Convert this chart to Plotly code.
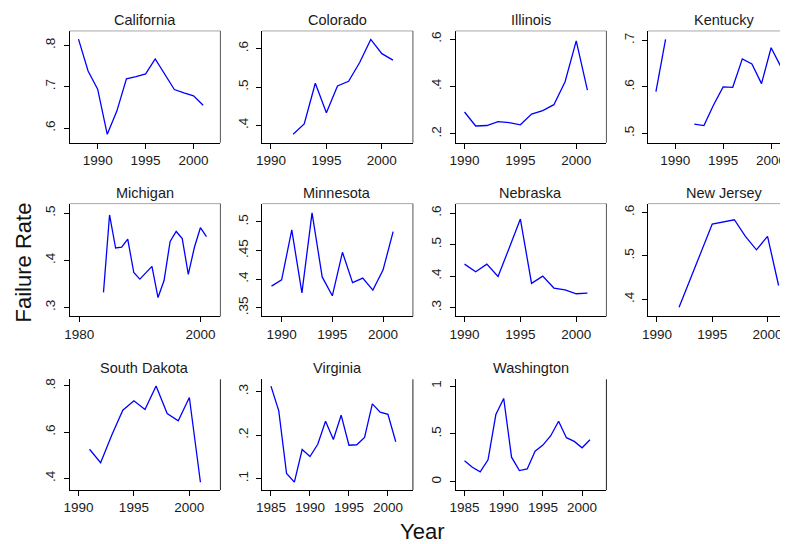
import plotly.graph_objects as go

# page body has an 8px default margin; lay the figure out in screenshot pixels minus that offset
OFF = 8
SW, SH = 788, 544
W, H = SW - OFF, SH - OFF
FONT = "Arial, Liberation Sans, sans-serif"

states = ["California", "Colorado", "Illinois", "Kentucky", "Michigan", "Minnesota",
          "Nebraska", "New Jersey", "South Dakota", "Virginia", "Washington"]

california_years = list(range(1988, 2002))
california_rate = [0.815, 0.738, 0.694, 0.585, 0.641, 0.719, 0.724, 0.731, 0.767, 0.730, 0.693, 0.685, 0.678, 0.655]

colorado_years = list(range(1992, 2002))
colorado_rate = [0.377, 0.404, 0.510, 0.433, 0.503, 0.515, 0.564, 0.624, 0.587, 0.570]

illinois_years = list(range(1990, 2002))
illinois_rate = [0.292, 0.233, 0.235, 0.251, 0.247, 0.238, 0.283, 0.298, 0.323, 0.420, 0.593, 0.385]

kentucky_years = list(range(1988, 2002))
kentucky_rate = [0.590, 0.702, None, None, 0.520, 0.517, 0.561, 0.600, 0.599, 0.660, 0.649, 0.607, 0.684, 0.644]

michigan_years = list(range(1984, 2002))
michigan_rate = [0.332, 0.496, 0.426, 0.428, 0.445, 0.374, 0.360, 0.373, 0.387, 0.321, 0.357, 0.440,
                 0.461, 0.446, 0.370, 0.427, 0.469, 0.450]

minnesota_years = list(range(1989, 2002))
minnesota_rate = [0.388, 0.399, 0.486, 0.376, 0.516, 0.404, 0.371, 0.447, 0.394, 0.402, 0.381, 0.416, 0.483]

nebraska_years = list(range(1990, 2002))
nebraska_rate = [0.438, 0.414, 0.438, 0.399, 0.489, 0.581, 0.377, 0.400, 0.362, 0.356, 0.344, 0.346]

newjersey_years = [1992, 1995, 1997, 1998, 1999, 2000, 2001]
newjersey_rate = [0.382, 0.573, 0.583, 0.545, 0.514, 0.545, 0.432]

southdakota_years = list(range(1991, 2002))
southdakota_rate = [0.526, 0.468, 0.587, 0.695, 0.736, 0.698, 0.800, 0.681, 0.649, 0.750, 0.383]

virginia_years = list(range(1985, 2002))
virginia_rate = [0.313, 0.256, 0.112, 0.092, 0.167, 0.151, 0.179, 0.232, 0.190, 0.246, 0.177, 0.178,
                 0.195, 0.272, 0.253, 0.248, 0.185]

washington_years = list(range(1985, 2002))
washington_rate = [0.218, 0.151, 0.102, 0.228, 0.702, 0.870, 0.256, 0.116, 0.133, 0.319, 0.382, 0.480,
                   0.632, 0.460, 0.421, 0.354, 0.439]

years_list = [california_years, colorado_years, illinois_years, kentucky_years, michigan_years,
              minnesota_years, nebraska_years, newjersey_years, southdakota_years, virginia_years,
              washington_years]
rates_list = [california_rate, colorado_rate, illinois_rate, kentucky_rate, michigan_rate,
              minnesota_rate, nebraska_rate, newjersey_rate, southdakota_rate, virginia_rate,
              washington_rate]

x_tick_vals = [
    [1990, 1995, 2000], [1990, 1995, 2000], [1990, 1995, 2000], [1990, 1995, 2000],
    [1980, 2000], [1990, 1995, 2000], [1990, 1995, 2000], [1990, 1995, 2000],
    [1990, 1995, 2000], [1985, 1990, 1995, 2000], [1985, 1990, 1995, 2000],
]
y_tick_vals = [
    [0.6, 0.7, 0.8], [0.4, 0.5, 0.6], [0.2, 0.4, 0.6], [0.5, 0.6, 0.7],
    [0.3, 0.4, 0.5], [0.35, 0.4, 0.45, 0.5], [0.3, 0.4, 0.5, 0.6], [0.4, 0.5, 0.6],
    [0.4, 0.6, 0.8], [0.1, 0.2, 0.3], [0, 0.5, 1],
]
y_tick_text = [
    [".6", ".7", ".8"], [".4", ".5", ".6"], [".2", ".4", ".6"], [".5", ".6", ".7"],
    [".3", ".4", ".5"], [".35", ".4", ".45", ".5"], [".3", ".4", ".5", ".6"], [".4", ".5", ".6"],
    [".4", ".6", ".8"], [".1", ".2", ".3"], ["0", ".5", "1"],
]

# axis ranges (layout)
x_ranges = [
    [1987.07, 2002.8], [1989.2, 2002.8], [1989.2, 2002.7], [1987.18, 2001.76],
    [1978.4, 2003.3], [1988.07, 2002.95], [1989.2, 2002.7], [1989.2, 2001.85],
    [1989.2, 2002.8], [1983.86, 2003.2], [1983.86, 2003.1],
]
y_ranges = [
    [0.5645, 0.8346], [0.355, 0.646], [0.162, 0.635], [0.48, 0.72],
    [0.281, 0.52], [0.335, 0.532], [0.272, 0.63], [0.361, 0.62],
    [0.349, 0.829], [0.0737, 0.3286], [-0.088, 1.07],
]

# panel geometry in screenshot pixels
col_left = [64, 258, 453, 647]
panel_w = 152
row_top = [30, 203, 379]
row_bot = [142, 316, 490]


def px_x(p):
    return (p - OFF) / W


def px_y(p):
    return 1 - (p - OFF) / H


fig = go.Figure()
annotations = []
shapes = []

for i, name in enumerate(states):
    r, c = divmod(i, 4)
    ax = "" if i == 0 else str(i + 1)
    left = col_left[c]
    right = min(left + panel_w, SW)
    xd = [px_x(left), min(px_x(right), 1.0)]
    yd = [px_y(row_bot[r]), px_y(row_top[r])]
    fig.add_trace(go.Scatter(
        x=years_list[i], y=rates_list[i], mode="lines",
        line=dict(color="#0000ff", width=1.3), connectgaps=False,
        xaxis="x" + ax, yaxis="y" + ax, showlegend=False, hoverinfo="skip"))
    common = dict(showgrid=False, zeroline=False, showline=True, linecolor="black",
                  linewidth=1, ticks="outside", ticklen=5, tickwidth=1, tickcolor="black",
                  tickfont=dict(family=FONT, size=13.5, color="#1a1a1a"), fixedrange=True)
    fig.update_layout(**{
        "xaxis" + ax: dict(domain=xd, range=x_ranges[i], anchor="y" + ax,
                           tickvals=x_tick_vals[i], ticktext=[str(v) for v in x_tick_vals[i]],
                           **common),
        "yaxis" + ax: dict(domain=yd, range=y_ranges[i], anchor="x" + ax,
                           tickvals=y_tick_vals[i], ticktext=y_tick_text[i], tickangle=-90,
                           ticklabelstandoff=3, **common),
    })
    annotations.append(dict(text=name, x=px_x(left + panel_w / 2), y=px_y(row_top[r] - 11),
                            xref="paper", yref="paper", showarrow=False, xanchor="center",
                            yanchor="middle", font=dict(family=FONT, size=14.5, color="#1a1a1a")))
    xr = "x" + ax + " domain"
    yr = "y" + ax + " domain"
    if r < 2:
        shapes.append(dict(type="line", xref=xr, yref=yr, x0=0, x1=1 if c < 3 else 1.2, y0=1, y1=1,
                           line=dict(color="#a8a8a8", width=1)))
        if c < 3:
            shapes.append(dict(type="line", xref=xr, yref=yr, x0=1, x1=1, y0=0, y1=1,
                               line=dict(color="#555555", width=1)))
    else:
        shapes.append(dict(type="line", xref=xr, yref=yr, x0=1, x1=1, y0=0, y1=1,
                           line=dict(color="#222222", width=1)))

annotations.append(dict(text="Failure Rate", x=px_x(18), y=px_y(262), xref="paper", yref="paper",
                        showarrow=False, textangle=-90, xanchor="center", yanchor="middle",
                        font=dict(family=FONT, size=22, color="#111111")))
annotations.append(dict(text="Year", x=px_x(419), y=px_y(531), xref="paper", yref="paper",
                        showarrow=False, xanchor="center", yanchor="middle",
                        font=dict(family=FONT, size=22, color="#111111")))

fig.update_layout(width=W, height=H, margin=dict(l=0, r=0, t=0, b=0),
                  paper_bgcolor="white", plot_bgcolor="white",
                  annotations=annotations, shapes=shapes, showlegend=False)

fig.write_html("out.html", config={"displayModeBar": False})
